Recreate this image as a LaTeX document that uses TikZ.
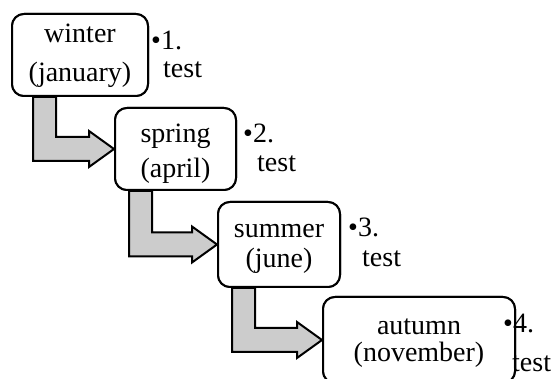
\documentclass[tikz,border=0pt]{standalone}
\usepackage{fontspec}
\setmainfont{Liberation Serif}
\usetikzlibrary{calc}
\tikzset{
  season/.style={draw=black, line width=2pt, rounded corners=12pt, fill=white, inner sep=0pt},
  txt/.style={inner sep=0pt, anchor=base, font=\fontsize{28}{30}\selectfont},
  side/.style={inner sep=0pt, anchor=base west, font=\fontsize{28}{30}\selectfont},
  bent/.style={draw=black, line width=2pt, fill=black!20, line join=miter}
}
\newcommand\bentarrow[3]{%
  \path[bent] let \p1=(#1.south west), \p2=(#2.west) in
    (\x1+#3pt+23pt,\y1) -- (\x1+#3pt+23pt,\y2+12pt) -- (\x2-25pt,\y2+12pt) --
    (\x2-25pt,\y2+18pt) -- (\x2,\y2) -- (\x2-25pt,\y2-18pt) --
    (\x2-25pt,\y2-12pt) -- (\x1+#3pt,\y2-12pt) -- (\x1+#3pt,\y1) -- cycle;}
\begin{document}
\begin{tikzpicture}[x=1pt,y=-1pt]
\useasboundingbox (0,0) rectangle (558,379);
\clip (0,0) rectangle (558,379);
% boxes (shapes)
\node[season, minimum width=136pt, minimum height=82pt] (b1) at (80,55) {};
\node[season, minimum width=121pt, minimum height=82pt] (b2) at (175.5,149) {};
\node[season, minimum width=122pt, minimum height=85pt] (b3) at (279,244.5) {};
\node[season, minimum width=192pt, minimum height=86pt] (b4) at (419,340) {};
% arrows
\bentarrow{b1}{b2}{22}
\bentarrow{b2}{b3}{15}
\bentarrow{b3}{b4}{15}
% redraw boxes over arrows
\node[season, minimum width=136pt, minimum height=82pt] (c1) at (b1) {};
\node[season, minimum width=121pt, minimum height=82pt] (c2) at (b2) {};
\node[season, minimum width=122pt, minimum height=85pt] (c3) at (b3) {};
\node[season, minimum width=192pt, minimum height=86pt] (c4) at (b4) {};
% box texts
\node[txt] (t1a) at (80,43) {winter};
\node[txt] (t1b) at (80,82) {(january)};
\node[txt] (t2a) at (175.5,143) {spring};
\node[txt] (t2b) at (175.5,178) {(april)};
\node[txt] (t3a) at (279,238) {summer};
\node[txt] (t3b) at (279,268) {(june)};
\node[txt] (t4a) at (419,335) {autumn};
\node[txt] (t4b) at (419,362) {(november)};
% side labels
\node[side] (s1a) at (151,50) {•1.};
\node[side] (s1b) at (163,78) {test};
\node[side] (s2a) at (243,143) {•2.};
\node[side] (s2b) at (257,172) {test};
\node[side] (s3a) at (348,237) {•3.};
\node[side] (s3b) at (362,267) {test};
\node[side] (s4a) at (503,333) {•4.};
\node[side] (s4b) at (512,372) {test};
\end{tikzpicture}
\end{document}
